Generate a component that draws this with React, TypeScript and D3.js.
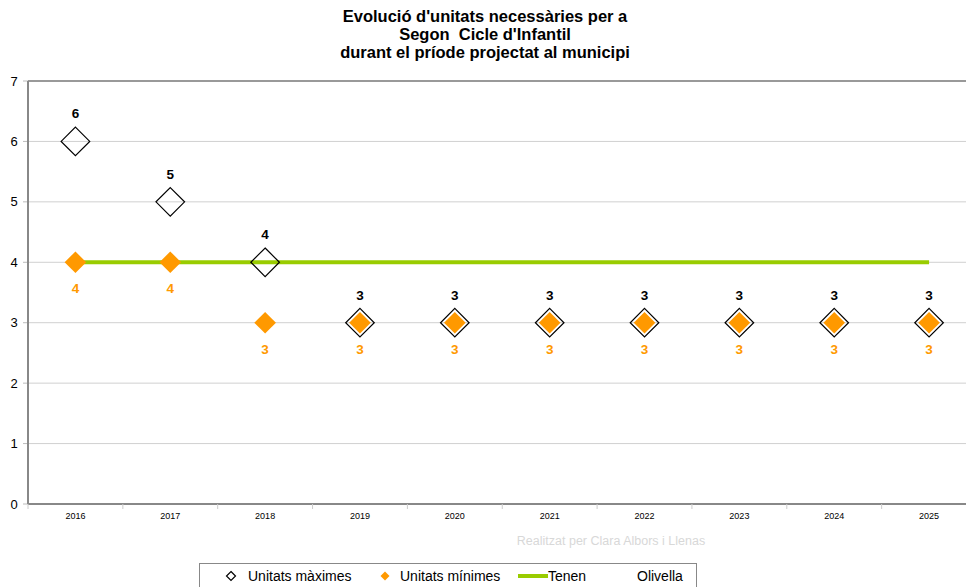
import React from "react";
import * as d3 from "d3";

const years = ["2016", "2017", "2018", "2019", "2020", "2021", "2022", "2023", "2024", "2025"];
const maxUnits = [6, 5, 4, 3, 3, 3, 3, 3, 3, 3];
const minUnits = [4, 4, 3, 3, 3, 3, 3, 3, 3, 3];
const tenen = [4, 4, 4, 4, 4, 4, 4, 4, 4, 4];
const yTicks = [0, 1, 2, 3, 4, 5, 6, 7];
const titleLines = [
  "Evolució d'unitats necessàries per a",
  "Segon  Cicle d'Infantil",
  "durant el príode projectat al municipi",
];

const W = 966;
const H = 587;
const left = 28;
const right = 976.5;
const top = 81;
const bottom = 504;

function diamond(cx: number, cy: number, r: number) {
  return `M${cx},${cy - r}L${cx + r},${cy}L${cx},${cy + r}L${cx - r},${cy}Z`;
}

export default function App() {
  const x = d3.scaleBand<string>().domain(years).range([left, right]);
  const y = d3.scaleLinear().domain([0, 7]).range([bottom, top]);
  const cx = (d: string) => (x(d) as number) + x.bandwidth() / 2;
  const line = d3
    .line<number>()
    .x((_, i) => cx(years[i]))
    .y((d) => y(d));
  const font = "Liberation Sans, Arial, sans-serif";
  return (
    <svg
      width={W}
      height={H}
      style={{ position: "absolute", left: 0, top: 0, background: "#fff" }}
      fontFamily={font}
    >
      {titleLines.map((t, i) => (
        <text
          key={i}
          x={485}
          y={22 + i * 18}
          textAnchor="middle"
          fontSize={16.5}
          fontWeight="bold"
          fill="#000"
          style={{ whiteSpace: "pre" }}
        >
          {t}
        </text>
      ))}
      {yTicks.map((t) => (
        <g key={t}>
          {t > 0 && t < 7 && <line x1={left} x2={W} y1={y(t)} y2={y(t)} stroke="#d0d0d0" strokeWidth={1} />}
          <line x1={left - 5} x2={left} y1={y(t)} y2={y(t)} stroke="#bbb" strokeWidth={1} />
          <text x={14} y={y(t) + 4.5} textAnchor="middle" fontSize={13} fill="#000">
            {t}
          </text>
        </g>
      ))}
      <line x1={left} x2={W} y1={top} y2={top} stroke="#999" strokeWidth={2} />
      <line x1={left} x2={left} y1={top} y2={bottom} stroke="#888" strokeWidth={2} />
      <line x1={left} x2={W} y1={bottom} y2={bottom} stroke="#888" strokeWidth={2} />
      {years.map((yr) => (
        <g key={yr}>
          <line x1={x(yr) as number} x2={x(yr) as number} y1={bottom} y2={bottom + 5} stroke="#ccc" strokeWidth={1} />
          <text x={cx(yr)} y={519} textAnchor="middle" fontSize={9} fill="#000">
            {yr}
          </text>
        </g>
      ))}
      <path d={line(tenen) as string} fill="none" stroke="#99cc00" strokeWidth={4} />
      {minUnits.map((v, i) => (
        <g key={"min" + i}>
          <path d={diamond(cx(years[i]), y(v), 10.8)} fill="#ff9900" stroke="none" />
          <text x={cx(years[i])} y={y(v) + 31} textAnchor="middle" fontSize={13.5} fontWeight="bold" fill="#ff9900">
            {v}
          </text>
        </g>
      ))}
      {maxUnits.map((v, i) => (
        <g key={"max" + i}>
          <path d={diamond(cx(years[i]), y(v), 14.3)} fill="none" stroke="#000" strokeWidth={1.2} />
          <text x={cx(years[i])} y={y(v) - 23} textAnchor="middle" fontSize={13.5} fontWeight="bold" fill="#000">
            {v}
          </text>
        </g>
      ))}
      <text x={611} y={545} textAnchor="middle" fontSize={12.5} fill="#d8d8d8">
        Realitzat per Clara Albors i Llenas
      </text>
      <rect x={199.5} y={563.5} width={497} height={30} fill="#fff" stroke="#888" strokeWidth={1} />
      <path d={diamond(231, 576, 4.5)} fill="#fff" stroke="#000" strokeWidth={1.2} />
      <text x={248} y={581} fontSize={14} fill="#000">Unitats màximes</text>
      <path d={diamond(385, 576, 4.5)} fill="#ff9900" stroke="none" />
      <text x={400} y={581} fontSize={14} fill="#000">Unitats mínimes</text>
      <line x1={518} x2={548} y1={576} y2={576} stroke="#99cc00" strokeWidth={4} />
      <text x={548} y={581} fontSize={14} fill="#000">Tenen</text>
      <text x={637} y={581} fontSize={14} fill="#000">Olivella</text>
    </svg>
  );
}
